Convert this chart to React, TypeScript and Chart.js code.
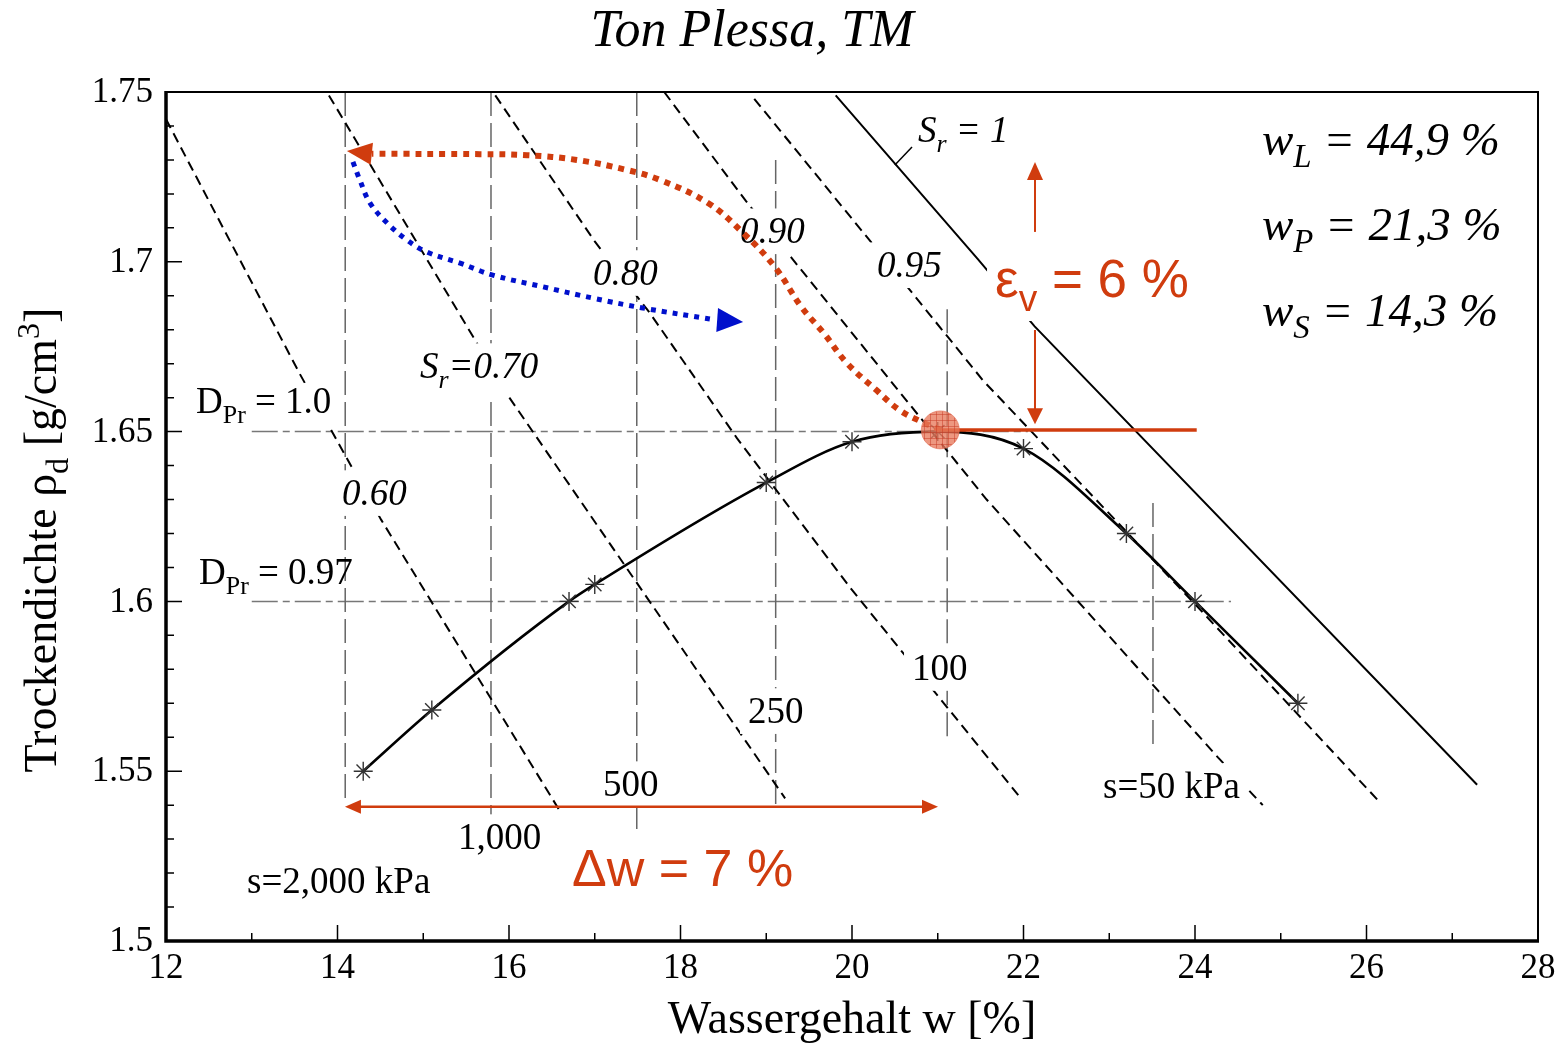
import React, { useEffect, useRef } from 'react';
import { Chart, registerables } from 'chart.js';
Chart.register(...registerables);

// ---------- axes ----------
const X_MIN = 12, X_MAX = 28, Y_MIN = 1.5, Y_MAX = 1.75;
const X_TICKS = [12, 14, 16, 18, 20, 22, 24, 26, 28];
const X_MINOR = [13, 15, 17, 19, 21, 23, 25, 27];
const Y_TICKS = [1.5, 1.55, 1.6, 1.65, 1.7, 1.75];
const Y_TICK_LABELS = ['1.5', '1.55', '1.6', '1.65', '1.7', '1.75'];
const Y_MINOR = [1.51, 1.52, 1.53, 1.54, 1.56, 1.57, 1.58, 1.59, 1.61, 1.62, 1.63, 1.64, 1.66, 1.67, 1.68, 1.69, 1.71, 1.72, 1.73, 1.74];

// ---------- compaction test ----------
const COMPACTION_W = [14.3, 15.1, 16.7, 17.0, 19.0, 20.0, 21.0, 22.0, 23.2, 24.0, 25.2];
const COMPACTION_RHO = [1.550, 1.568, 1.600, 1.605, 1.635, 1.647, 1.650, 1.645, 1.620, 1.600, 1.570];

// ---------- saturation lines ----------
const SR060_W = [12.00, 13.56, 14.51, 16.60];
const SR060_RHO = [1.742, 1.667, 1.624, 1.538];
const SR070_W = [13.90, 15.58, 15.95, 19.22];
const SR070_RHO = [1.749, 1.678, 1.662, 1.542];
const SR080_W = [15.84, 17.00, 17.64, 18.66, 19.98, 21.97];
const SR080_RHO = [1.749, 1.706, 1.685, 1.648, 1.604, 1.542];
const SR090_W = [17.81, 18.76, 19.30, 20.48, 21.57, 24.27, 24.79];
const SR090_RHO = [1.750, 1.718, 1.701, 1.664, 1.630, 1.554, 1.540];
const SR095_W = [18.86, 20.28, 21.53, 23.97, 26.15];
const SR095_RHO = [1.748, 1.704, 1.665, 1.600, 1.541];
const SR100_W = [19.81, 21.46, 22.13, 27.29];
const SR100_RHO = [1.749, 1.701, 1.681, 1.546];
const SR100_LEADER_W = [20.50, 20.70];
const SR100_LEADER_RHO = [1.7285, 1.7338];

// ---------- suction lines (vertical) ----------
const SUCTION_W = [14.09, 15.79, 17.49, 19.11, 21.11, 23.51];
const SUCTION_TOP = [1.75, 1.75, 1.75, 1.730, 1.686, 1.629];
const SUCTION_BOTTOM = [1.5415, 1.5218, 1.5321, 1.5395, 1.5592, 1.5562];

// ---------- Proctor degree lines (horizontal) ----------
const DPR_RHO = [1.65, 1.60];
const DPR_W_START = [13.0, 13.0];
const DPR_W_END = [22.05, 24.42];

// ---------- annotations ----------
const RED_PATH_W = [21.03, 20.82, 20.55, 20.28, 19.94, 19.67, 19.41, 19.10, 18.73, 18.32, 17.76, 17.38, 16.79, 16.21, 15.66, 14.40];
const RED_PATH_RHO = [1.6505, 1.6528, 1.6564, 1.6623, 1.6702, 1.6790, 1.6867, 1.6985, 1.7085, 1.7173, 1.7241, 1.7270, 1.7300, 1.7314, 1.7317, 1.7318];
const BLUE_PATH_W = [14.18, 14.26, 14.38, 14.58, 14.81, 15.04, 15.43, 15.81, 16.40, 16.98, 17.56, 18.40];
const BLUE_PATH_RHO = [1.7294, 1.7241, 1.7173, 1.7114, 1.7064, 1.7029, 1.6996, 1.6961, 1.6926, 1.6893, 1.6864, 1.6829];
const OPT_POINT = [21.03, 1.6505];
const RED_HLINE_W = [21.03, 24.02];
const EPS_ARROW_W = 22.134;
const EPS_UP_RHO = [1.7088, 1.7245];
const EPS_DOWN_RHO = [1.6799, 1.6560];
const DW_RHO = 1.5395;
const DW_W = [14.25, 20.85];

const RED = '#d03c0e';
const BLUE = '#0010cc';

type Part = [string, string];
type Label = { parts: Part[]; w: number; rho: number; size: number; style: string; family: string; color: string; bg: boolean; pad?: number };
const SERIF = '"Liberation Serif", "Times New Roman", serif';
const SANS = '"Liberation Sans", Arial, sans-serif';

const LABELS: Label[] = [
  { parts: [['S', ''], ['r', 'sub'], [' = 1', '']], w: 20.77, rho: 1.7353, size: 37, style: 'italic', family: SERIF, color: '#000', bg: false },
  { parts: [['0.90', '']], w: 18.694, rho: 1.7055, size: 37, style: 'italic', family: SERIF, color: '#000', bg: true },
  { parts: [['0.95', '']], w: 20.292, rho: 1.6955, size: 37, style: 'italic', family: SERIF, color: '#000', bg: true },
  { parts: [['0.80', '']], w: 16.980, rho: 1.6932, size: 37, style: 'italic', family: SERIF, color: '#000', bg: true },
  { parts: [['S', ''], ['r', 'sub'], ['=0.70', '']], w: 14.962, rho: 1.6658, size: 37, style: 'italic', family: SERIF, color: '#000', bg: true },
  { parts: [['0.60', '']], w: 14.052, rho: 1.6284, size: 37, style: 'italic', family: SERIF, color: '#000', bg: true },
  { parts: [['D', ''], ['Pr', 'sub'], [' = 1.0', '']], w: 12.350, rho: 1.6555, size: 37, style: 'normal', family: SERIF, color: '#000', bg: true, pad: 3 },
  { parts: [['D', ''], ['Pr', 'sub'], [' = 0.97', '']], w: 12.385, rho: 1.6051, size: 37, style: 'normal', family: SERIF, color: '#000', bg: false },
  { parts: [['100', '']], w: 20.700, rho: 1.5769, size: 37, style: 'normal', family: SERIF, color: '#000', bg: true },
  { parts: [['250', '']], w: 18.787, rho: 1.5642, size: 37, style: 'normal', family: SERIF, color: '#000', bg: true },
  { parts: [['500', '']], w: 17.096, rho: 1.5427, size: 37, style: 'normal', family: SERIF, color: '#000', bg: true },
  { parts: [['1,000', '']], w: 15.405, rho: 1.5271, size: 37, style: 'normal', family: SERIF, color: '#000', bg: true },
  { parts: [['s=2,000 kPa', '']], w: 12.945, rho: 1.5141, size: 37, style: 'normal', family: SERIF, color: '#000', bg: false },
  { parts: [['s=50 kPa', '']], w: 22.927, rho: 1.5421, size: 37, style: 'normal', family: SERIF, color: '#000', bg: true },
  { parts: [['ε', ''], ['v', 'sub'], [' = 6 %', '']], w: 21.668, rho: 1.6896, size: 53, style: 'normal', family: SANS, color: RED, bg: true },
  { parts: [['Δw = 7 %', '']], w: 16.735, rho: 1.5162, size: 52, style: 'normal', family: SANS, color: RED, bg: true },
  { parts: [['w', ''], ['L', 'sub'], [' = 44,9 %', '']], w: 24.78, rho: 1.7314, size: 47, style: 'italic', family: SERIF, color: '#000', bg: false },
  { parts: [['w', ''], ['P', 'sub'], [' = 21,3 %', '']], w: 24.78, rho: 1.7064, size: 47, style: 'italic', family: SERIF, color: '#000', bg: false },
  { parts: [['w', ''], ['S', 'sub'], [' = 14,3 %', '']], w: 24.78, rho: 1.6811, size: 47, style: 'italic', family: SERIF, color: '#000', bg: false },
];

// arrow heads: [fromW, fromRho, tipW, tipRho, length, halfWidth, colour]
const ARROW_HEADS: [number, number, number, number, number, number, string][] = [
  [14.40, 1.7318, 14.11, 1.7326, 25, 11, RED],
  [18.40, 1.6829, 18.73, 1.6823, 26, 12, BLUE],
  [22.134, 1.7088, 22.134, 1.7294, 18, 8, RED],
  [22.134, 1.6799, 22.134, 1.6522, 16, 8, RED],
  [17.5, 1.5395, 14.087, 1.5395, 16, 7, RED],
  [17.5, 1.5395, 21.003, 1.5395, 16, 7, RED],
];

const pts = (W: number[], R: number[]) => W.map((w, i) => ({ x: w, y: R[i] }));

function font(style: string, size: number, family: string) {
  return `${style} ${size}px ${family}`;
}
function partsWidth(ctx: CanvasRenderingContext2D, parts: Part[], size: number, style: string, family: string) {
  let w = 0;
  for (const [t, k] of parts) {
    ctx.font = font(style, k ? size * 0.7 : size, family);
    w += ctx.measureText(t).width;
  }
  return w;
}
function drawParts(ctx: CanvasRenderingContext2D, parts: Part[], x: number, y: number, size: number, style: string, family: string, color: string) {
  let cx = x;
  ctx.fillStyle = color;
  ctx.textAlign = 'left';
  ctx.textBaseline = 'alphabetic';
  for (const [t, k] of parts) {
    const s = k ? size * 0.7 : size;
    ctx.font = font(style, s, family);
    const dy = k === 'sub' ? size * 0.26 : k === 'sup' ? -size * 0.38 : 0;
    ctx.fillText(t, cx, y + dy);
    cx += ctx.measureText(t).width;
  }
}

export default function App() {
  const ref = useRef<HTMLCanvasElement>(null);
  useEffect(() => {
    document.body.style.margin = '0';
    document.body.style.overflow = 'hidden';
    const canvas = ref.current!;
    const pc = document.createElement('canvas');
    pc.width = 6; pc.height = 6;
    const p = pc.getContext('2d')!;
    p.fillStyle = 'rgba(232,122,92,0.78)';
    p.fillRect(0, 0, 6, 6);
    p.fillStyle = 'rgba(200,60,38,0.5)';
    p.fillRect(0, 0, 6, 1);
    p.fillRect(0, 0, 1, 6);
    const pattern = canvas.getContext('2d')!.createPattern(pc, 'repeat');

    let labelsDrawn = false;
    const drawLabels = (chart: any) => {
      const ctx: CanvasRenderingContext2D = chart.ctx;
      const xs = chart.scales.x, ys = chart.scales.y;
      for (const L of LABELS) {
        const x = xs.getPixelForValue(L.w);
        const y = ys.getPixelForValue(L.rho);
        const tw = partsWidth(ctx, L.parts, L.size, L.style, L.family);
        const hasSub = L.parts.some((q) => q[1] === 'sub');
        if (L.bg) {
          const pad = L.pad ?? 8;
          ctx.fillStyle = '#fff';
          ctx.fillRect(x - pad, y - L.size * 0.72 - pad, tw + 2 * pad, L.size * 0.72 + (hasSub ? L.size * 0.3 : L.size * 0.08) + 2 * pad);
        }
        drawParts(ctx, L.parts, x, y, L.size, L.style, L.family, L.color);
      }
    };

    const plugin = {
      id: 'decor',
      beforeDatasetsDraw() { labelsDrawn = false; },
      beforeDatasetDraw(chart: any, args: any) {
        const ds = chart.data.datasets[args.index];
        if (!labelsDrawn && (ds.order ?? 0) < 10) { drawLabels(chart); labelsDrawn = true; }
      },
      afterDatasetsDraw(chart: any) {
        if (!labelsDrawn) { drawLabels(chart); labelsDrawn = true; }
        const ctx: CanvasRenderingContext2D = chart.ctx;
        const xs = chart.scales.x, ys = chart.scales.y;
        for (const [fw, fr, tw, tr, len, hw, col] of ARROW_HEADS) {
          const x0 = xs.getPixelForValue(fw), y0 = ys.getPixelForValue(fr);
          const x1 = xs.getPixelForValue(tw), y1 = ys.getPixelForValue(tr);
          const d = Math.hypot(x1 - x0, y1 - y0);
          const ux = (x1 - x0) / d, uy = (y1 - y0) / d;
          const bx = x1 - ux * len, by = y1 - uy * len;
          ctx.beginPath();
          ctx.moveTo(x1, y1);
          ctx.lineTo(bx - uy * hw, by + ux * hw);
          ctx.lineTo(bx + uy * hw, by - ux * hw);
          ctx.closePath();
          ctx.fillStyle = col;
          ctx.fill();
        }
      },
      afterDraw(chart: any) {
        const ctx: CanvasRenderingContext2D = chart.ctx;
        const a = chart.chartArea;
        const xs = chart.scales.x, ys = chart.scales.y;
        ctx.save();
        ctx.strokeStyle = '#000';
        // ticks
        ctx.lineWidth = 1.5;
        ctx.beginPath();
        for (const v of X_TICKS) { const x = xs.getPixelForValue(v); ctx.moveTo(x, a.bottom); ctx.lineTo(x, a.bottom - 16); }
        for (const v of X_MINOR) { const x = xs.getPixelForValue(v); ctx.moveTo(x, a.bottom); ctx.lineTo(x, a.bottom - 8); }
        for (const v of Y_TICKS) { const y = ys.getPixelForValue(v); ctx.moveTo(a.left, y); ctx.lineTo(a.left + 16, y); }
        for (const v of Y_MINOR) { const y = ys.getPixelForValue(v); ctx.moveTo(a.left, y); ctx.lineTo(a.left + 8, y); }
        ctx.stroke();
        // frame
        ctx.lineWidth = 2;
        ctx.strokeRect(a.left, a.top, a.right - a.left, a.bottom - a.top);
        ctx.lineWidth = 3.5;
        ctx.beginPath();
        ctx.moveTo(a.left, a.top - 1); ctx.lineTo(a.left, a.bottom); ctx.lineTo(a.right + 1, a.bottom);
        ctx.stroke();
        // tick labels
        ctx.fillStyle = '#000';
        ctx.font = font('normal', 35, SERIF);
        ctx.textAlign = 'center';
        ctx.textBaseline = 'middle';
        for (const v of X_TICKS) ctx.fillText(String(v), xs.getPixelForValue(v), a.bottom + 28);
        ctx.textAlign = 'right';
        Y_TICKS.forEach((v, i) => ctx.fillText(Y_TICK_LABELS[i], a.left - 13, ys.getPixelForValue(v) + 1));
        // axis titles
        const xt: Part[] = [['Wassergehalt w [%]', '']];
        const xw = partsWidth(ctx, xt, 46, 'normal', SERIF);
        drawParts(ctx, xt, (a.left + a.right) / 2 - xw / 2, 1033, 46, 'normal', SERIF, '#000');
        const yt: Part[] = [['Trockendichte ρ', ''], ['d', 'sub'], [' [g/cm', ''], ['3', 'sup'], [']', '']];
        const yw = partsWidth(ctx, yt, 46, 'normal', SERIF);
        ctx.save();
        ctx.translate(56, 540);
        ctx.rotate(-Math.PI / 2);
        drawParts(ctx, yt, -yw / 2, 0, 46, 'normal', SERIF, '#000');
        ctx.restore();
        // title
        const tt: Part[] = [['Ton Plessa, TM', '']];
        const tw = partsWidth(ctx, tt, 52, 'italic', SERIF);
        drawParts(ctx, tt, 752 - tw / 2, 46, 52, 'italic', SERIF, '#000');
        ctx.restore();
      },
    };

    const line = (data: any[], color: string, width: number, dash: number[], order: number, extra: any = {}) => ({
      data, showLine: true, borderColor: color, borderWidth: width, borderDash: dash, pointRadius: 0,
      fill: false, tension: 0, order, borderCapStyle: 'butt', ...extra,
    });

    const datasets: any[] = [
      { data: [{ x: OPT_POINT[0], y: OPT_POINT[1] }], pointRadius: 19, pointStyle: 'circle', backgroundColor: pattern, borderColor: 'rgba(225,110,85,0.6)', borderWidth: 1, showLine: false, order: 0 },
      line(pts(RED_PATH_W, RED_PATH_RHO), RED, 6, [6, 6], 1, { tension: 0.4 }),
      line(pts(BLUE_PATH_W, BLUE_PATH_RHO), BLUE, 5, [5, 6], 1, { tension: 0.4 }),
      line(pts(RED_HLINE_W, [OPT_POINT[1], OPT_POINT[1]]), RED, 3.5, [], 2),
      line(pts([EPS_ARROW_W, EPS_ARROW_W], EPS_UP_RHO), RED, 2, [], 2),
      line(pts([EPS_ARROW_W, EPS_ARROW_W], EPS_DOWN_RHO), RED, 2, [], 2),
      line(pts(DW_W, [DW_RHO, DW_RHO]), RED, 2.5, [], 2),
      { data: pts(COMPACTION_W, COMPACTION_RHO), showLine: false, pointStyle: 'star', pointRadius: 9.5, borderColor: '#333', borderWidth: 1.4, order: 3 },
      line(pts(COMPACTION_W, COMPACTION_RHO), '#000', 2.6, [], 4, { cubicInterpolationMode: 'monotone' }),
      line(pts(SR100_W, SR100_RHO), '#000', 2, [], 10),
      line(pts(SR100_LEADER_W, SR100_LEADER_RHO), '#000', 1.5, [], 10),
      line(pts(SR095_W, SR095_RHO), '#000', 2, [10, 6], 10),
      line(pts(SR090_W, SR090_RHO), '#000', 2, [10, 6], 10),
      line(pts(SR080_W, SR080_RHO), '#000', 2, [10, 6], 10),
      line(pts(SR070_W, SR070_RHO), '#000', 2, [10, 6], 10),
      line(pts(SR060_W, SR060_RHO), '#000', 2, [10, 6], 10),
      ...SUCTION_W.map((w, i) => line(pts([w, w], [SUCTION_TOP[i], SUCTION_BOTTOM[i]]), '#666', 1.5, [24, 7], 11)),
      ...DPR_RHO.map((r, i) => line(pts([DPR_W_START[i], DPR_W_END[i]], [r, r]), '#777', 1.5, [26, 5, 7, 5], 11)),
    ];

    const chart = new Chart(canvas, {
      type: 'scatter',
      data: { datasets },
      options: {
        responsive: false,
        animation: false,
        devicePixelRatio: 1,
        events: [],
        layout: { padding: { left: 166, right: 27, top: 92, bottom: 104 } },
        plugins: { legend: { display: false }, tooltip: { enabled: false }, title: { display: false } },
        scales: {
          x: { type: 'linear', min: X_MIN, max: X_MAX, display: false },
          y: { type: 'linear', min: Y_MIN, max: Y_MAX, display: false },
        },
      } as any,
      plugins: [plugin as any],
    });
    return () => chart.destroy();
  }, []);
  return <canvas ref={ref} width={1565} height={1045} style={{ display: 'block', width: 1565, height: 1045 }} />;
}
